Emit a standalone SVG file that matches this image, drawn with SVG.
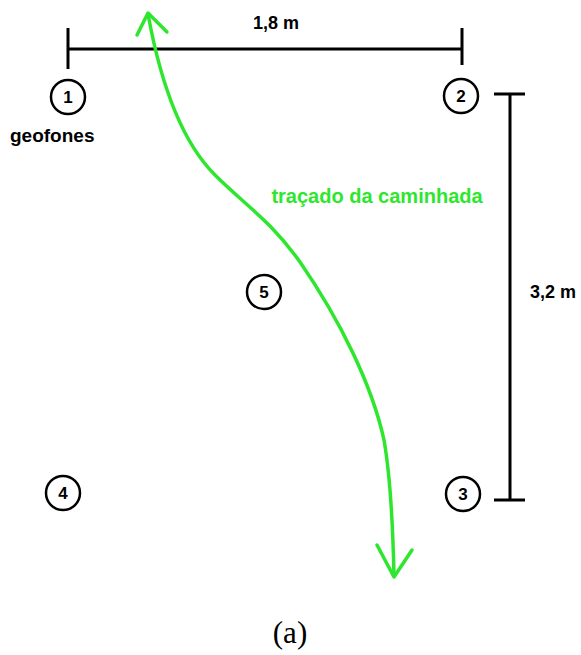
<svg xmlns="http://www.w3.org/2000/svg" width="581" height="655" viewBox="0 0 581 655">
<style>
.bar{stroke:#000;stroke-width:3;fill:none}
.node circle{fill:#fff;stroke:#000;stroke-width:2.5}
.node text{font-family:"Liberation Sans",Arial,sans-serif;font-weight:bold;font-size:17px;text-anchor:middle;fill:#000}
.lbl{font-family:"Liberation Sans",Arial,sans-serif;font-weight:bold;font-size:18px;fill:#000}
.walk{stroke:#2ee62e;stroke-width:3.5;fill:none;stroke-linecap:round;stroke-linejoin:round}
</style>
<rect width="581" height="655" fill="#fff"/>
<g id="dim-horizontal">
<path class="bar" d="M68,28 V69 M68,49 H462 M462,28 V65"/>
<text class="lbl" x="276" y="29" text-anchor="middle">1,8 m</text>
</g>
<g id="dim-vertical">
<path class="bar" d="M494,94 H525 M510,94 V500 M494,500 H525"/>
<text class="lbl" x="553" y="298" text-anchor="middle">3,2 m</text>
</g>
<g id="node1" class="node"><circle cx="68" cy="97" r="17"/><text x="68" y="103">1</text></g>
<g id="node2" class="node"><circle cx="461" cy="96" r="17"/><text x="461" y="102">2</text></g>
<g id="node3" class="node"><circle cx="463" cy="494" r="17"/><text x="463" y="500">3</text></g>
<g id="node4" class="node"><circle cx="63" cy="493" r="17"/><text x="63" y="499">4</text></g>
<g id="node5" class="node"><circle cx="264" cy="292" r="17"/><text x="264" y="298">5</text></g>
<text class="lbl" x="10" y="142" style="font-size:19px">geofones</text>
<g id="connectors">
<path class="walk" d="M148,14 C160,80 180,140 215,175 C245,205 270,220 300,262 C340,320 372,385 384,440 C391,480 393,530 394,576"/>
<path class="walk" d="M137,35 L148,13 L167,32"/>
<path class="walk" d="M377,545 L394,577 L412,550"/>
</g>
<text x="377" y="203" text-anchor="middle" style="font-family:'Liberation Sans',Arial,sans-serif;font-weight:bold;font-size:20px;fill:#2ee62e">traçado da caminhada</text>
<text x="290" y="643" text-anchor="middle" style="font-family:'Liberation Serif','Times New Roman',serif;font-size:31px;fill:#000">(a)</text>
</svg>
